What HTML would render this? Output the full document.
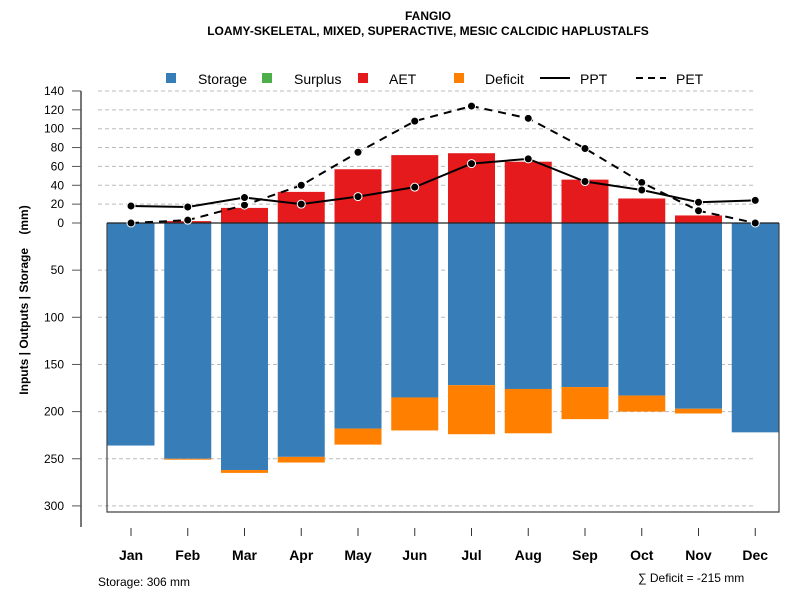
<!DOCTYPE html>
<html><head><meta charset="utf-8"><style>
body{margin:0;background:#fff;font-family:"Liberation Sans",sans-serif}
</style></head><body>
<svg id="c" width="800" height="600" xmlns="http://www.w3.org/2000/svg" font-family="Liberation Sans, sans-serif">
<text x="428" y="20" text-anchor="middle" font-size="12" font-weight="bold">FANGIO</text>
<text x="428" y="35" text-anchor="middle" font-size="12" font-weight="bold">LOAMY-SKELETAL, MIXED, SUPERACTIVE, MESIC CALCIDIC HAPLUSTALFS</text>
<g id="legend">
<rect x="166" y="73" width="10" height="10" fill="#377eb8"/>
<text x="198" y="84" font-size="14">Storage</text>
<rect x="262" y="73" width="10" height="10" fill="#4daf4a"/>
<text x="294" y="84" font-size="14">Surplus</text>
<rect x="358" y="73" width="10" height="10" fill="#e41a1c"/>
<text x="389" y="84" font-size="14">AET</text>
<rect x="454" y="73" width="10" height="10" fill="#ff7f00"/>
<text x="485" y="84" font-size="14">Deficit</text>
<line x1="540" y1="78" x2="570" y2="78" stroke="#000" stroke-width="2"/>
<text x="580" y="84" font-size="14">PPT</text>
<line x1="636" y1="78" x2="666" y2="78" stroke="#000" stroke-width="2" stroke-dasharray="7,5"/>
<text x="676" y="84" font-size="14">PET</text>
</g>
<text transform="translate(28,300) rotate(-90)" text-anchor="middle" font-size="12" font-weight="bold">Inputs | Outputs | Storage&#160;&#160;&#160;&#160;(mm)</text>
<text x="98" y="586" font-size="12">Storage: 306 mm</text>
<text x="638" y="582" font-size="12">∑ Deficit = -215 mm</text>
<g id="grid"></g><g id="bars"></g><g id="lines"></g><g id="axes"></g>
</svg>
<script>
const months=["Jan","Feb","Mar","Apr","May","Jun","Jul","Aug","Sep","Oct","Nov","Dec"];
const storage=[236,250,262,248,218,185,172,176,174,183,197,222];
const deficit=[0,1,3,6,17,35,52,47,34,17,5,0];
const aet=[0,2,16,33,57,72,74,65,46,26,8,0];
const ppt=[18,17,27,20,28,38,63,68,44,35,22,24];
const pet=[0,3,19,40,75,108,124,111,79,43,13,0];
const posTicks=[0,20,40,60,80,100,120,140];
const negTicks=[50,100,150,200,250,300];
const NS="http://www.w3.org/2000/svg";
const y0=223,k=0.943;
function Y(v){return y0-v*k;}
function X(i){return 131+i*56.75;}
function mk(p,t,a){const e=document.createElementNS(NS,t);for(const q in a)e.setAttribute(q,a[q]);document.getElementById(p).appendChild(e);return e;}
posTicks.forEach(v=>{if(v>0){const g=mk("grid","line",{x1:98,x2:756,y1:Y(v),y2:Y(v),stroke:"#bbb","stroke-dasharray":"4,3"});

}});
negTicks.forEach(v=>{const g=mk("grid","line",{x1:98,x2:756,y1:Y(-v),y2:Y(-v),stroke:"#bbb","stroke-dasharray":"4,3"});

});
const bw=47;
months.forEach((m,i)=>{
 const x=X(i)-bw/2;
 const s=mk("bars","rect",{x:x,y:y0,width:bw,height:storage[i]*k,fill:"#377eb8"});
 
 
 if(deficit[i]>0){const d=mk("bars","rect",{x:x,y:Y(-storage[i]),width:bw,height:deficit[i]*k,fill:"#ff7f00"});
 
 }
 if(aet[i]>0){const a=mk("bars","rect",{x:x,y:Y(aet[i]),width:bw,height:aet[i]*k,fill:"#e41a1c"});
 
 }
});
const fr=mk("bars","path",{d:"M107,223 V512 H779 V223",fill:"none",stroke:"#444","stroke-width":1.2});


const zl=mk("bars","line",{x1:107,x2:779,y1:y0,y2:y0,stroke:"#222","stroke-width":1.2});


function series(arr,name,dash){
 const pl=mk("lines","polyline",{points:arr.map((v,i)=>X(i)+","+Y(v)).join(" "),fill:"none",stroke:"#000","stroke-width":2,"stroke-dasharray":dash});
 
 
 arr.forEach((v,i)=>{const c=mk("lines","circle",{cx:X(i),cy:Y(v),r:4,fill:"#000",stroke:"#fff","stroke-width":1});
 
 });
}
series(pet,"pet","8,6");
series(ppt,"ppt","none");
const ya=mk("axes","line",{x1:81,x2:81,y1:Y(140),y2:527,stroke:"#777","stroke-width":2});


function ytick(v,lab){
 mk("axes","line",{x1:72,x2:81,y1:Y(v),y2:Y(v),stroke:"#555"});
 const t=mk("axes","text",{x:64,y:Y(v)+4,"text-anchor":"end","font-size":12});
 t.textContent=lab;
 
 
}
posTicks.forEach(v=>ytick(v,v));
negTicks.forEach(v=>ytick(-v,v));
months.forEach((m,i)=>{
 mk("axes","line",{x1:X(i),x2:X(i),y1:528,y2:536,stroke:"#333"});
 const t=mk("axes","text",{x:X(i),y:560,"text-anchor":"middle","font-size":14,"font-weight":"bold"});
 t.textContent=m;
 
 
});
</script>
</body></html>
